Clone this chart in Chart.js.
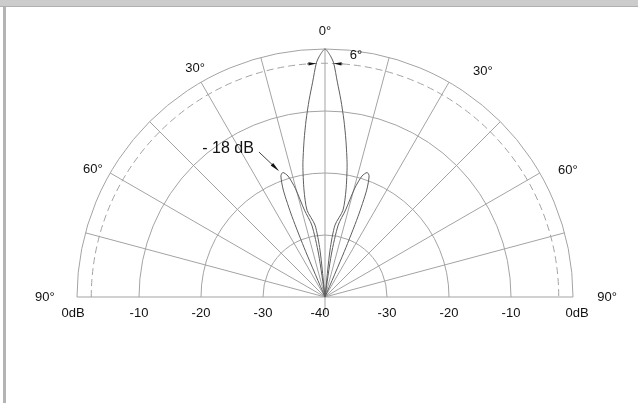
<!DOCTYPE html>
<html>
<head>
<meta charset="utf-8">
<script src="https://cdn.jsdelivr.net/npm/chart.js@4/dist/chart.umd.min.js"></script>
<style>
  body { margin: 0; background: #fff; }
  #wrap { position: relative; width: 638px; height: 403px; overflow: hidden; }
  #wrap canvas { position: absolute; left: 0; top: 0; }
  #topbar { position: absolute; left: 0; top: 0; width: 638px; height: 6px; background: #cccccc; border-bottom: 1px solid #b0b0b0; }
  #leftbar { position: absolute; left: 3px; top: 7px; width: 3px; height: 396px; background: #b4b4b4; }
</style>
</head>
<body>
<div id="wrap">
  <canvas id="pattern" width="638" height="403"></canvas>
  <div id="topbar"></div>
  <div id="leftbar"></div>
</div>
<script>
// polar grid: dB rings and angle spokes
const floorDb = -40;
const ringDb = [-30, -20, -10, 0];
const beamDb = -2.3;
const spokeAngles = [-90, -75, -60, -45, -30, -15, 0, 15, 30, 45, 60, 75, 90];
const angleLabels = ['90°', '60°', '30°', '0°', '30°', '60°', '90°'];
const dbTickLabels = ['0dB', '-10', '-20', '-30', '-40', '-30', '-20', '-10', '0dB'];
const dbTickAt = [0, -10, -20, -30, -40, -30, -20, -10, 0];

// main lobe, angle in degrees / level in dB
const mainAngles = [-5, -6.1, -7.9, -11.7, -11.1, -9.5, -7.6, -6.1, -4.6, -3.3, -2.1, -1.2, 0, 1.2, 2.1, 3.3, 4.6, 6.1, 7.6, 9.5, 11.1, 11.7, 7.9, 6.1, 5];
const mainDb = [-40, -32.4, -28.3, -25.7, -22.4, -18.4, -14.5, -11.3, -8.1, -5.3, -2.2, -1, 0, -1, -2.2, -5.3, -8.1, -11.3, -14.5, -18.4, -22.4, -25.7, -28.3, -32.4, -40];

// first side lobes
const sideLeftAngles = [-23.5, -23, -22.3, -21.3, -20, -18.7, -17, -15.3, -13.3, -10.4, -8.5, -7];
const sideLeftDb = [-40, -32, -26, -21.5, -19.2, -18.8, -19.6, -21.8, -25.6, -28.2, -33, -40];
const sideRightAngles = [23.5, 23, 22.3, 21.3, 20, 18.7, 17, 15.3, 13.3, 10.4, 8.5, 7];
const sideRightDb = [-40, -32, -26, -21.5, -19.2, -18.8, -19.6, -21.8, -25.6, -28.2, -33, -40];

const toXY = (angles, dbs) => angles.map((a, i) => {
  const r = dbs[i] - floorDb, t = a * Math.PI / 180;
  return { x: r * Math.sin(t), y: r * Math.cos(t) };
});

const FONT = '"Liberation Sans", Arial, sans-serif';
const GRID = '#a3a3a3';
// where each angle label sits: [angle, level in dB]
const angleLabelPos = [[-90, 5.2], [-61.3, 2.7], [-29.6, 2.4], [0, 2.9], [35, 4.4], [62.4, 4.2], [90, 5.5]];

const polarGrid = {
  id: 'polarGrid',
  beforeDatasetsDraw(chart) {
    const { ctx, scales: { x, y } } = chart;
    const cx = x.getPixelForValue(0), cy = y.getPixelForValue(0);
    const unit = x.getPixelForValue(1) - cx;
    const rad = db => (db - floorDb) * unit;
    const at = (ang, db) => {
      const t = ang * Math.PI / 180;
      return [cx + rad(db) * Math.sin(t), cy - rad(db) * Math.cos(t)];
    };
    ctx.save();
    ctx.strokeStyle = GRID;
    ctx.lineWidth = 1;
    ringDb.forEach(d => {
      ctx.beginPath();
      ctx.arc(cx, cy, rad(d), Math.PI, 2 * Math.PI);
      ctx.stroke();
    });
    ctx.setLineDash([7, 4]);
    ctx.beginPath();
    ctx.arc(cx, cy, rad(beamDb), Math.PI, 2 * Math.PI);
    ctx.stroke();
    ctx.setLineDash([]);
    spokeAngles.forEach(a => {
      const [px, py] = at(a, 0);
      ctx.beginPath();
      ctx.moveTo(cx, cy);
      ctx.lineTo(px, py);
      ctx.stroke();
    });
    // small tick below the centre
    ctx.beginPath();
    ctx.moveTo(cx, cy);
    ctx.lineTo(cx, cy + 17);
    ctx.stroke();

    ctx.fillStyle = '#111';
    ctx.font = '13px ' + FONT;
    ctx.textAlign = 'center';
    ctx.textBaseline = 'middle';
    angleLabels.forEach((lab, i) => {
      const [px, py] = at(angleLabelPos[i][0], angleLabelPos[i][1]);
      ctx.fillText(lab, px, py);
    });
    dbTickLabels.forEach((lab, i) => {
      const side = i < 4 ? -1 : (i === 4 ? 0 : 1);
      let px = cx + side * rad(dbTickAt[i]);
      if (lab === '0dB') px += side * 4;
      if (i === 4) px -= 5;
      ctx.fillText(lab, px, cy + 16);
    });
    ctx.restore();
  },
  afterDatasetsDraw(chart) {
    const { ctx, scales: { x, y } } = chart;
    const cx = x.getPixelForValue(0), cy = y.getPixelForValue(0);
    const unit = x.getPixelForValue(1) - cx;
    const at = (ang, db) => {
      const t = ang * Math.PI / 180, r = (db - floorDb) * unit;
      return [cx + r * Math.sin(t), cy - r * Math.cos(t)];
    };
    const arrow = (from, to, len, w) => {
      const dx = to[0] - from[0], dy = to[1] - from[1];
      const d = Math.hypot(dx, dy), ux = dx / d, uy = dy / d;
      const bx = to[0] - ux * len, by = to[1] - uy * len;
      ctx.beginPath();
      ctx.moveTo(from[0], from[1]);
      ctx.lineTo(bx, by);
      ctx.stroke();
      ctx.beginPath();
      ctx.moveTo(to[0], to[1]);
      ctx.lineTo(bx - uy * w, by + ux * w);
      ctx.lineTo(bx + uy * w, by - ux * w);
      ctx.closePath();
      ctx.fill();
    };
    ctx.save();
    ctx.strokeStyle = '#444';
    ctx.fillStyle = '#111';
    ctx.lineWidth = 1;
    // side lobe level callout
    arrow(at(-24.5, -14.3), at(-20, -18.4), 10, 1.8);
    // beamwidth marks on the dashed ring
    arrow(at(-4.4, beamDb), at(-2.1, beamDb), 8, 1.6);
    arrow(at(4.4, beamDb), at(2.1, beamDb), 8, 1.6);
    ctx.textAlign = 'center';
    ctx.textBaseline = 'middle';
    ctx.font = '16px ' + FONT;
    const [tx, ty] = at(-33, -11.3);
    ctx.fillText('- 18 dB', tx, ty + 1);
    ctx.font = '13px ' + FONT;
    const [sx, sy] = at(7.3, -0.6);
    ctx.fillText('6°', sx, sy + 1);
    ctx.restore();
  }
};

const lobeStyle = { showLine: true, pointRadius: 0, borderColor: '#5e5e5e', borderWidth: 1, tension: 0.25, fill: false };

new Chart(document.getElementById('pattern'), {
  type: 'scatter',
  data: {
    datasets: [
      { label: 'Main lobe', data: toXY(mainAngles, mainDb), ...lobeStyle },
      { label: 'Side lobe L', data: toXY(sideLeftAngles, sideLeftDb), ...lobeStyle },
      { label: 'Side lobe R', data: toXY(sideRightAngles, sideRightDb), ...lobeStyle }
    ]
  },
  options: {
    responsive: false,
    animation: false,
    layout: { padding: 0 },
    plugins: { legend: { display: false }, tooltip: { enabled: false } },
    scales: {
      x: { type: 'linear', display: false, min: -325 / 6.2, max: 313 / 6.2 },
      y: { type: 'linear', display: false, min: -106 / 6.2, max: 297 / 6.2 }
    }
  },
  plugins: [polarGrid]
});
</script>
</body>
</html>
